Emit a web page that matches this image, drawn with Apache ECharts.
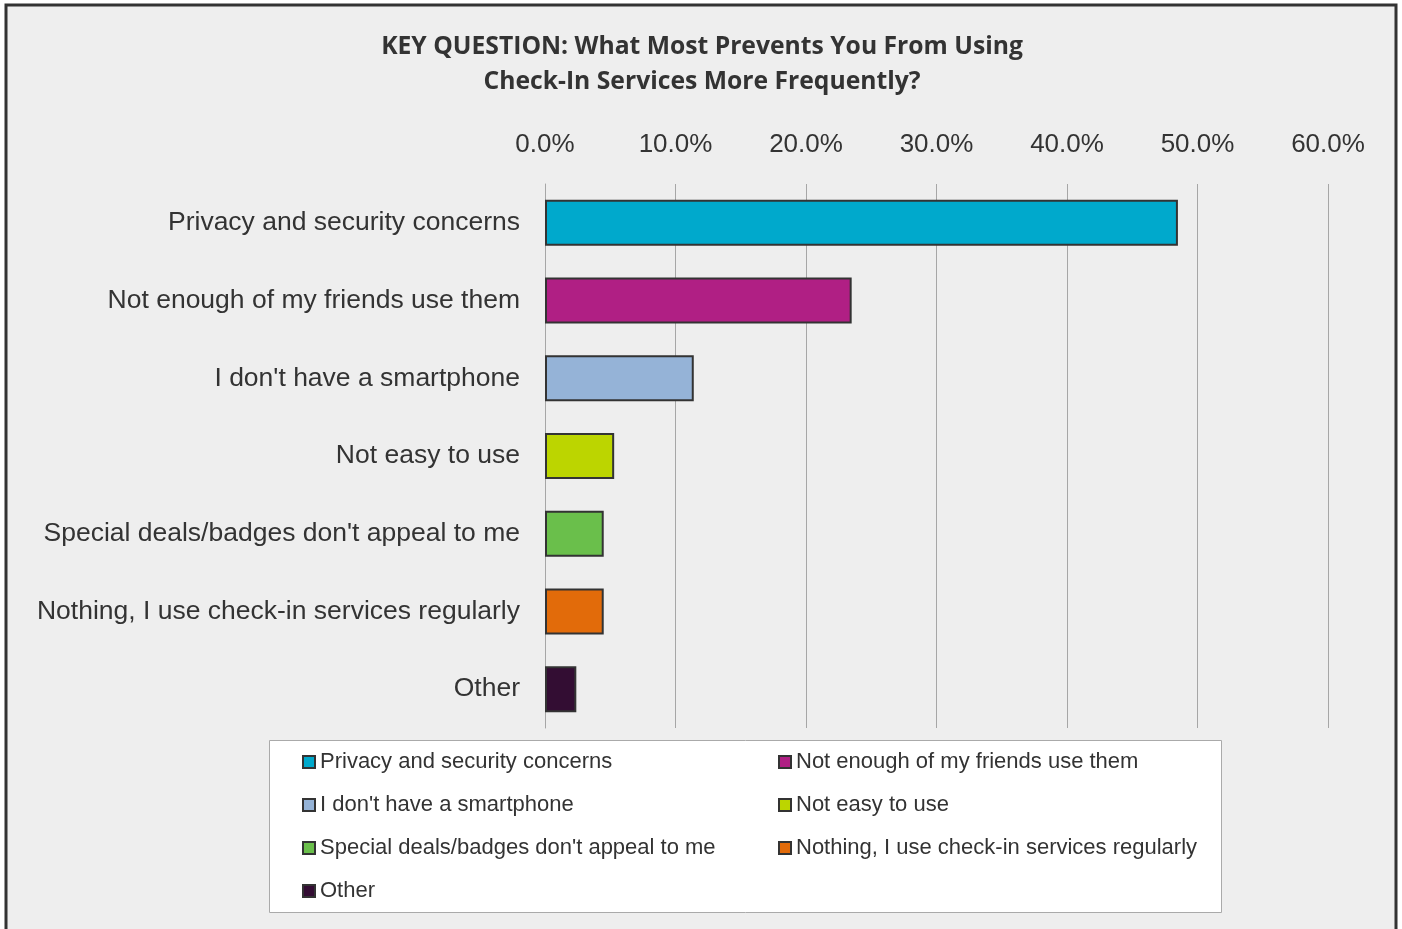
<!DOCTYPE html>
<html>
<head>
<meta charset="utf-8">
<script src="https://cdn.jsdelivr.net/npm/echarts@6/dist/echarts.min.js"></script>
<style>
html,body{margin:0;padding:0;background:#ffffff;}
#chart{width:1402px;height:929px;}
</style>
</head>
<body>
<div id="chart"></div>
<script>
const categories = [
  "Privacy and security concerns",
  "Not enough of my friends use them",
  "I don't have a smartphone",
  "Not easy to use",
  "Special deals/badges don't appeal to me",
  "Nothing, I use check-in services regularly",
  "Other"
];
const values = [0.485, 0.235, 0.114, 0.053, 0.045, 0.045, 0.024];
const colors = ["#00a9cc", "#b01f84", "#95b3d7", "#bcd500", "#6abf4b", "#e26b0a", "#330d33"];
const xTicks = [0, 0.1, 0.2, 0.3, 0.4, 0.5, 0.6];
const titleText = "KEY QUESTION: What Most Prevents You From Using\nCheck-In Services More Frequently?";

const series = categories.map((name, i) => ({
  name: name,
  type: 'bar',
  stack: 'all',
  barWidth: 46,
  itemStyle: { color: colors[i], borderColor: '#333333', borderWidth: 2 },
  data: categories.map((c, j) => (j === i ? values[i] : null))
}));

const legendStyle = {
  orient: 'vertical',
  icon: 'rect',
  padding: 0,
  itemWidth: 12,
  itemHeight: 12,
  itemGap: 21,
  itemStyle: { borderColor: '#333333', borderWidth: 2 },
  textStyle: { fontFamily: 'Liberation Sans, Arial', fontSize: 22, color: '#333333', lineHeight: 22 }
};

const chart = echarts.init(document.getElementById('chart'), null, { renderer: 'canvas' });
chart.setOption({
  backgroundColor: '#ffffff',
  animation: false,
  graphic: [
    { type: 'rect', z: -10, shape: { x: 6, y: 5, width: 1390, height: 940 },
      style: { fill: '#eeeeee', stroke: '#333333', lineWidth: 3 } },
    { type: 'rect', z: -5, shape: { x: 269.5, y: 740.5, width: 952, height: 172 },
      style: { fill: '#ffffff', stroke: '#aaaaaa', lineWidth: 1 } }
  ],
  title: {
    text: titleText,
    left: 697,
    top: 24,
    textAlign: 'center',
    textStyle: { fontFamily: 'Open Sans', fontWeight: 'bold', fontSize: 24.7, lineHeight: 35, color: '#333333' }
  },
  legend: [
    Object.assign({ left: 302, top: 751, data: [categories[0], categories[2], categories[4], categories[6]] }, legendStyle),
    Object.assign({ left: 778, top: 751, data: [categories[1], categories[3], categories[5]] }, legendStyle)
  ],
  grid: { left: 545, right: 74, top: 184, bottom: 201, containLabel: false },
  xAxis: {
    type: 'value',
    position: 'top',
    min: 0,
    max: 0.6,
    interval: 0.1,
    axisLine: { show: false },
    axisTick: { show: false },
    splitLine: { show: true, lineStyle: { color: '#a6a6a6', width: 1 } },
    axisLabel: {
      margin: 26,
      fontFamily: 'Liberation Sans, Arial',
      fontSize: 26,
      color: '#333333',
      formatter: v => (v * 100).toFixed(1) + '%'
    }
  },
  yAxis: {
    type: 'category',
    inverse: true,
    data: categories,
    axisLine: { show: true, lineStyle: { color: '#a6a6a6', width: 1 } },
    axisTick: { show: false },
    axisLabel: { margin: 25, fontFamily: 'Liberation Sans, Arial', fontSize: 26.5, color: '#333333', padding: [2, 0, 0, 0] }
  },
  series: series
});
</script>
</body>
</html>
